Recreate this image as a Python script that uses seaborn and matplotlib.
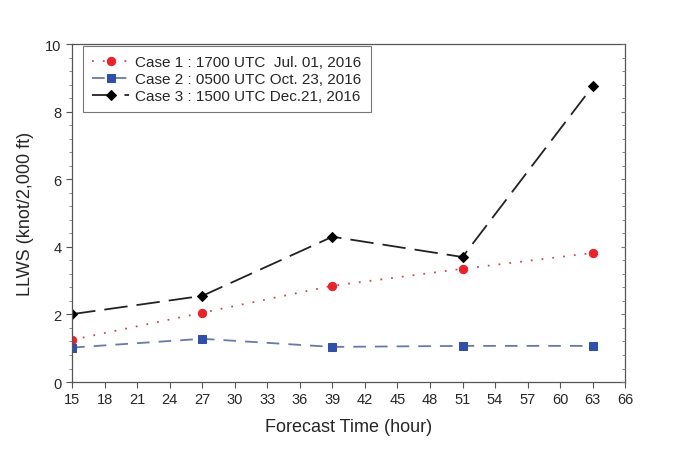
import numpy as np
import pandas as pd
import matplotlib
matplotlib.use('Agg')
import matplotlib.pyplot as plt
from matplotlib.ticker import MultipleLocator
import seaborn as sns

sns.set_style('white')
plt.rcParams['font.family'] = ['Liberation Sans', 'DejaVu Sans']

# data
hours = [15, 27, 39, 51, 63]
case1 = [1.25, 2.05, 2.85, 3.35, 3.82]
case2 = [1.02, 1.28, 1.04, 1.07, 1.07]
case3 = [2.01, 2.55, 4.30, 3.70, 8.75]
labels = ['Case 1 : 1700 UTC  Jul. 01, 2016',
          'Case 2 : 0500 UTC Oct. 23, 2016',
          'Case 3 : 1500 UTC Dec.21, 2016']

df = pd.DataFrame({
    'hour': hours * 3,
    'llws': case1 + case2 + case3,
    'case': [labels[0]] * 5 + [labels[1]] * 5 + [labels[2]] * 5,
})

palette = {labels[0]: '#e8232a', labels[1]: '#2f4fa8', labels[2]: '#000000'}
line_colors = {labels[0]: '#c05050', labels[1]: '#6a78a8', labels[2]: '#222222'}
dashes = {labels[0]: (1, 5), labels[1]: (7, 5), labels[2]: (13, 5)}
markers = {labels[0]: 'o', labels[1]: 's', labels[2]: 'D'}

fig = plt.figure(figsize=(6.87, 4.56), dpi=100)
ax = fig.add_axes([0.105, 0.16, 0.805, 0.741])

for lab in labels:
    sub = df[df['case'] == lab]
    sns.lineplot(data=sub, x='hour', y='llws', ax=ax, color=line_colors[lab],
                 linewidth=1.3, label=lab, marker=markers[lab],
                 markersize=6 if lab != labels[2] else 5,
                 markerfacecolor=palette[lab], markeredgecolor=palette[lab])

for line, lab in zip(ax.lines, labels):
    line.set_linestyle((0, dashes[lab]))

ax.set_xlim(15, 66)
ax.set_ylim(0, 10)
ax.set_xticks(np.arange(15, 67, 3))
ax.set_yticks(np.arange(0, 11, 2))
ax.yaxis.set_minor_locator(MultipleLocator(0.4))
ax.tick_params(axis='both', which='major', direction='out', length=4,
               labelsize=10.5, color='#555555', bottom=True, left=True)
ax.tick_params(axis='y', which='minor', direction='out', length=2,
               color='#777777', left=True)
for s in ax.spines.values():
    s.set_color('#555555')
    s.set_linewidth(0.9)

ax2 = ax.twinx()
ax2.set_ylim(0, 10)
ax2.yaxis.set_major_locator(MultipleLocator(2))
ax2.yaxis.set_minor_locator(MultipleLocator(0.4))
ax2.tick_params(axis='y', which='both', direction='in', length=3,
                color='#777777', labelright=False, right=True)
ax2.tick_params(axis='y', which='minor', length=2)
for s in ax2.spines.values():
    s.set_visible(False)

ax.set_xlabel('Forecast Time (hour)', fontsize=13, labelpad=8)
ax.set_ylabel('LLWS (knot/2,000 ft)', fontsize=13, labelpad=8)

leg = ax.legend(loc='upper left', bbox_to_anchor=(0.02, 0.995), fontsize=11,
                frameon=True, fancybox=False, handlelength=2.4,
                labelspacing=0.2, borderpad=0.6, handletextpad=0.4,
                borderaxespad=0.0)
leg.get_frame().set_edgecolor('#555555')
leg.get_frame().set_linewidth(0.8)

fig.savefig('out.png', dpi=100)
